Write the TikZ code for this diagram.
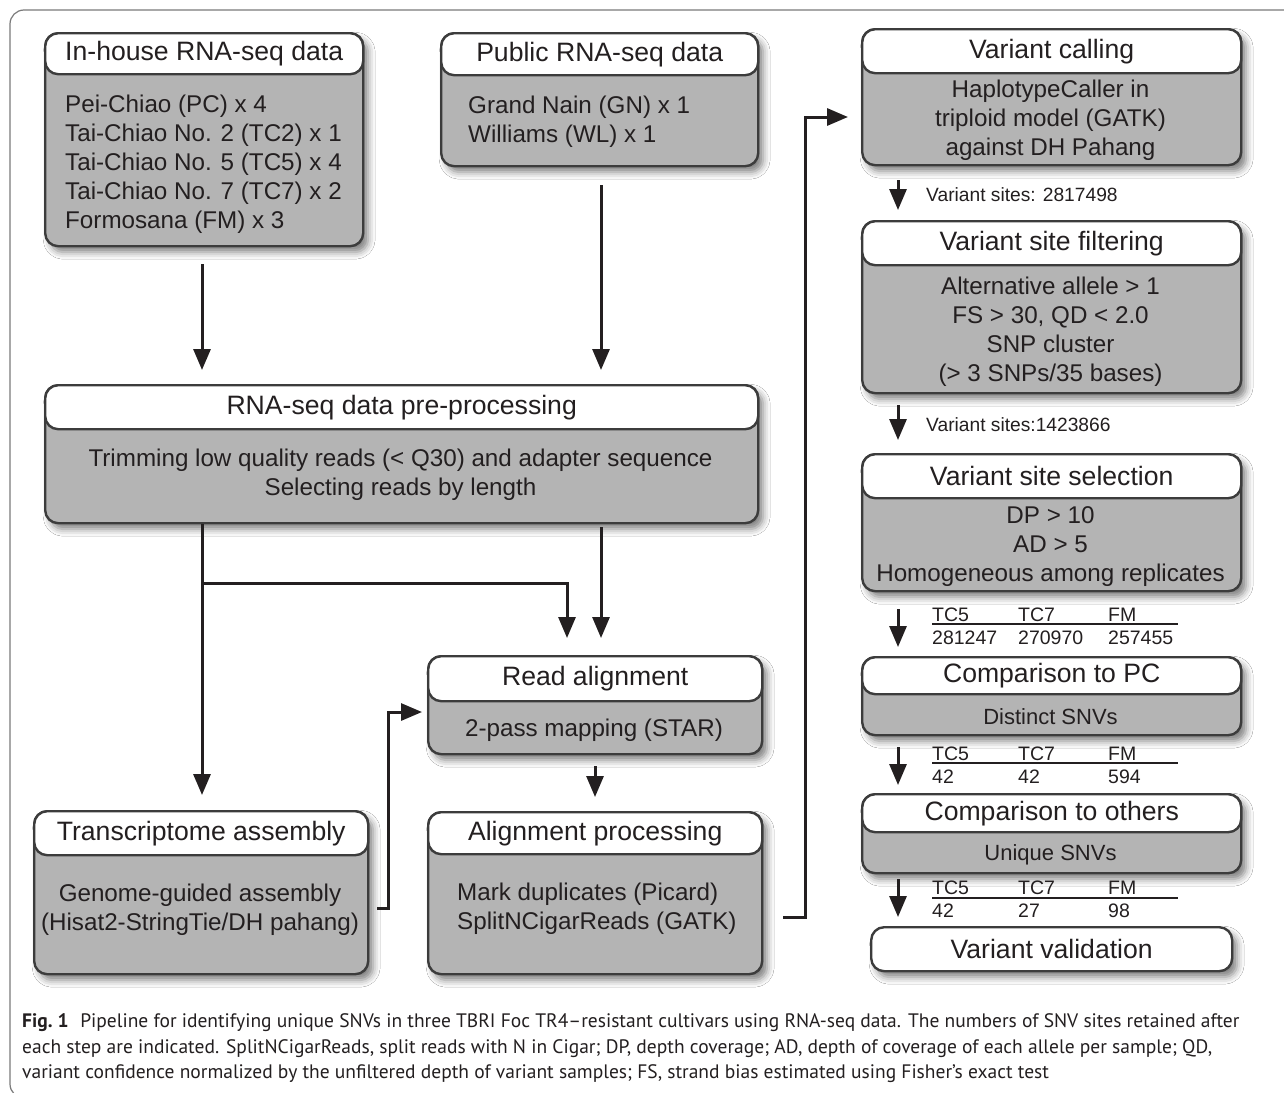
\documentclass[tikz,border=0pt]{standalone}
\usepackage{fontspec}
\setmainfont{Liberation Sans}
\newfontfamily\capfont{PT Sans}
\usetikzlibrary{arrows.meta,shadows.blur}
\definecolor{ink}{HTML}{231F20}
\definecolor{boxgray}{HTML}{B4B4B4}
\definecolor{boxline}{HTML}{3C3C3C}
\definecolor{framegray}{HTML}{7A7A7A}
\begin{document}
\begin{tikzpicture}[x=1pt,y=-1pt,
  bodybox/.style={draw=boxline, line width=2.4pt, fill=boxgray, rounded corners=13pt,
    inner sep=0pt, anchor=north west,
    blur shadow={shadow xshift=5pt, shadow yshift=-6pt, shadow blur radius=7pt, shadow opacity=50}},
  headbox/.style={draw=boxline, line width=2.4pt, fill=white, rounded corners=13pt,
    inner sep=0pt, anchor=north west, text=ink, font=\fontsize{26.6}{30}\selectfont},
  bodytext/.style={text=ink, inner sep=0pt, yshift=-2pt, font=\fontsize{24.2}{29}\selectfont},
  smalltext/.style={text=ink, inner sep=0pt, font=\fontsize{19.2}{22}\selectfont},
  tabtext/.style={text=ink, inner sep=0pt, anchor=base west, font=\fontsize{19.5}{22}\selectfont},
  arr/.style={draw=ink, line width=3pt, -{Triangle[length=21pt,width=17pt]}},
  captext/.style={text=ink, inner sep=0pt, anchor=base west, font=\capfont\fontsize{19.5}{22}\selectfont},
]
\useasboundingbox (0,0) rectangle (1284,1092);
\fill[white] (0,0) rectangle (1284,1092);
\draw[framegray, line width=1.2pt, rounded corners=14pt] (10,10) rectangle (1310,1098);

% ---------- In-house ----------
\node[bodybox, minimum width=318pt, minimum height=213pt] (inh) at (44,32) {};
\node[headbox, minimum width=318pt, minimum height=41pt] (inhh) at (inh.north west) {In-house RNA-seq data};
\node[bodytext, anchor=west, align=left] (inht) at (65,162.5) {Pei-Chiao (PC) x 4\\Tai-Chiao No. 2 (TC2) x 1\\Tai-Chiao No. 5 (TC5) x 4\\Tai-Chiao No. 7 (TC7) x 2\\Formosana (FM) x 3};

% ---------- Public ----------
\node[bodybox, minimum width=317pt, minimum height=133pt] (pub) at (440,32) {};
\node[headbox, minimum width=317pt, minimum height=42pt] (pubh) at (pub.north west) {Public RNA-seq data};
\node[bodytext, anchor=west, align=left] (pubt) at (468,119.5) {Grand Nain (GN) x 1\\Williams (WL) x 1};

% ---------- Pre-processing ----------
\node[bodybox, minimum width=713pt, minimum height=138pt] (pre) at (44,384) {};
\node[headbox, minimum width=713pt, minimum height=44pt] (preh) at (pre.north west) {RNA-seq data pre-processing};
\node[bodytext, align=center] (pret) at (400.5,472.5) {Trimming low quality reads (< Q30) and adapter sequence\\Selecting reads by length};

% ---------- Read alignment ----------
\node[bodybox, minimum width=334pt, minimum height=98pt] (ral) at (427,655) {};
\node[headbox, minimum width=334pt, minimum height=45pt] (ralh) at (ral.north west) {Read alignment};
\node[bodytext] (ralt) at (594,728) {2-pass mapping (STAR)};

% ---------- Alignment processing ----------
\node[bodybox, minimum width=334pt, minimum height=162pt] (alp) at (427,811) {};
\node[headbox, minimum width=334pt, minimum height=42pt] (alph) at (alp.north west) {Alignment processing};
\node[bodytext, anchor=west, align=left] (alpt) at (457,907) {Mark duplicates (Picard)\\SplitNCigarReads (GATK)};

% ---------- Transcriptome assembly ----------
\node[bodybox, minimum width=334pt, minimum height=163pt] (tra) at (33,810) {};
\node[headbox, minimum width=334pt, minimum height=44pt] (trah) at (tra.north west) {Transcriptome assembly};
\node[bodytext, align=center] (trat) at (200,907.5) {Genome-guided assembly\\(Hisat2-StringTie/DH pahang)};

% ---------- Right column ----------
\node[bodybox, minimum width=379pt, minimum height=136pt] (vc) at (861,28) {};
\node[headbox, minimum width=379pt, minimum height=44pt] (vch) at (vc.north west) {Variant calling};
\node[bodytext, align=center] (vct) at (1050.5,118) {HaplotypeCaller in\\triploid model (GATK)\\against DH Pahang};

\node[bodybox, minimum width=379pt, minimum height=172pt] (vf) at (861,220) {};
\node[headbox, minimum width=379pt, minimum height=44pt] (vfh) at (vf.north west) {Variant site filtering};
\node[bodytext, align=center] (vft) at (1050.5,330) {Alternative allele > 1\\FS > 30, QD < 2.0\\SNP cluster\\(> 3 SNPs/35 bases)};

\node[bodybox, minimum width=379pt, minimum height=137pt] (vs) at (861,453) {};
\node[headbox, minimum width=379pt, minimum height=44pt] (vsh) at (vs.north west) {Variant site selection};
\node[bodytext, align=center] (vst) at (1050.5,545) {DP > 10\\AD > 5\\Homogeneous among replicates};

\node[bodybox, minimum width=379pt, minimum height=78pt] (cp) at (861,656) {};
\node[headbox, minimum width=379pt, minimum height=37pt] (cph) at (cp.north west) {Comparison to PC};
\node[bodytext, font=\fontsize{22}{26}\selectfont] (cpt) at (1050.5,715) {Distinct SNVs};

\node[bodybox, minimum width=379pt, minimum height=79pt] (co) at (861,793) {};
\node[headbox, minimum width=379pt, minimum height=38pt] (coh) at (co.north west) {Comparison to others};
\node[bodytext, font=\fontsize{22}{26}\selectfont] (cot) at (1050.5,853) {Unique SNVs};

\node[headbox, minimum width=361pt, minimum height=44pt,
  blur shadow={shadow xshift=5pt, shadow yshift=-6pt, shadow blur radius=7pt, shadow opacity=50}] (vv) at (870,926) {Variant validation};

% labels
\node[smalltext, anchor=west] (l1) at (926,195) {Variant sites: 2817498};
\node[smalltext, anchor=west] (l2) at (926,425) {Variant sites:1423866};

% tables
\node[tabtext] (t1a) at (932,621) {TC5};
\node[tabtext] (t1b) at (1018,621) {TC7};
\node[tabtext] (t1c) at (1108,621) {FM};
\node[tabtext] (t1d) at (932,644) {281247};
\node[tabtext] (t1e) at (1018,644) {270970};
\node[tabtext] (t1f) at (1108,644) {257455};
\draw[ink, line width=2pt] (932,623.5) -- (1178,623.5);

\node[tabtext] (t2a) at (932,760) {TC5};
\node[tabtext] (t2b) at (1018,760) {TC7};
\node[tabtext] (t2c) at (1108,760) {FM};
\node[tabtext] (t2d) at (932,783) {42};
\node[tabtext] (t2e) at (1018,783) {42};
\node[tabtext] (t2f) at (1108,783) {594};
\draw[ink, line width=2pt] (932,762.5) -- (1178,762.5);

\node[tabtext] (t3a) at (932,894) {TC5};
\node[tabtext] (t3b) at (1018,894) {TC7};
\node[tabtext] (t3c) at (1108,894) {FM};
\node[tabtext] (t3d) at (932,917) {42};
\node[tabtext] (t3e) at (1018,917) {27};
\node[tabtext] (t3f) at (1108,917) {98};
\draw[ink, line width=2pt] (932,897.5) -- (1178,897.5);

% ---------- connectors ----------
\coordinate (c1) at (202,0);
\coordinate (c2) at (601,0);
\coordinate (c3) at (567,0);
\coordinate (c4) at (595,0);
\coordinate (cR) at (898,0);
\coordinate (br) at (202,583);
\coordinate (t1) at (388,908);
\coordinate (t2) at (0,712);
\coordinate (a1) at (805,917);
\coordinate (a2) at (0,117);

\draw[arr, shorten <=17pt, shorten >=14pt] (inh.south -| c1) -- (pre.north -| c1);
\draw[arr, shorten <=18pt, shorten >=14pt] (pub.south -| c2) -- (pre.north -| c2);
\draw[arr, shorten >=15pt] (pre.south -| c1) -- (tra.north -| c1);
\draw[arr, shorten >=17pt] (br) -| (ral.north -| c3);
\draw[arr, shorten <=3pt, shorten >=17pt] (pre.south -| c2) -- (ral.north -| c2);
\draw[arr, shorten <=8pt, shorten >=5pt] (tra.east |- t1) -- (t1) |- (ral.west |- t2);
\draw[arr, shorten <=11pt, shorten >=14pt] (ral.south -| c4) -- (alp.north -| c4);
\draw[arr, shorten <=20pt, shorten >=13pt] (alp.east |- a1) -- (a1) |- (vc.west |- a2);

\draw[arr, shorten <=14pt, shorten >=10pt] (vc.south -| cR) -- (vf.north -| cR);
\draw[arr, shorten <=11pt, shorten >=13pt] (vf.south -| cR) -- (vs.north -| cR);
\draw[arr, shorten <=17pt, shorten >=9pt] (vs.south -| cR) -- (cp.north -| cR);
\draw[arr, shorten <=11pt, shorten >=8pt] (cp.south -| cR) -- (co.north -| cR);
\draw[arr, shorten <=5pt, shorten >=9pt] (co.south -| cR) -- (vv.north -| cR);

% ---------- caption ----------
\node[captext] (cap1) at (22,1027) {\textbf{Fig.~1}\hspace{0.6em}Pipeline for identifying unique SNVs in three TBRI Foc TR4–resistant cultivars using RNA-seq data. The numbers of SNV sites retained after};
\node[captext] (cap2) at (22,1053) {each step are indicated. SplitNCigarReads, split reads with N in Cigar; DP, depth coverage; AD, depth of coverage of each allele per sample; QD,};
\node[captext] (cap3) at (22,1078) {variant confidence normalized by the unfiltered depth of variant samples; FS, strand bias estimated using Fisher’s exact test};
\end{tikzpicture}
\end{document}
